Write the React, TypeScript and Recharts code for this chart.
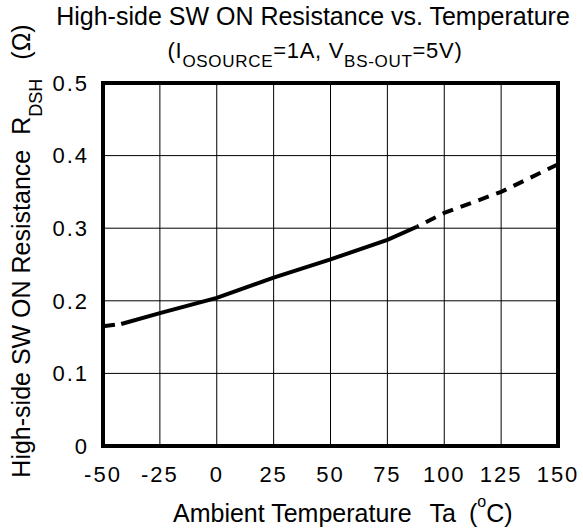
import { LineChart, Line, XAxis, YAxis, CartesianGrid, ReferenceArea } from 'recharts';

const temps = [-50, -42, -25, 0, 25, 50, 75, 88, 100, 125, 150];
const solidR = [null, 0.168, 0.183, 0.204, 0.232, 0.257, 0.284, 0.302, null, null, null];
const dashLowR = [0.165, 0.168, null, null, null, null, null, null, null, null, null];
const dashHighR = [null, null, null, null, null, null, null, 0.302, 0.321, 0.35, 0.388];
const xTicks = [-50, -25, 0, 25, 50, 75, 100, 125, 150];
const yTicks = [0, 0.1, 0.2, 0.3, 0.4, 0.5];

const data = temps.map((t, i) => ({
  t,
  solid: solidR[i],
  low: dashLowR[i],
  high: dashHighR[i],
}));

const font = 'Liberation Sans, Arial, sans-serif';
const tickStyle = { fill: '#000', fontSize: 22, fontFamily: font, letterSpacing: 2 };

export default function App() {
  return (
    <div style={{ position: 'absolute', left: 0, top: 0, width: 583, height: 531, background: '#fff' }}>
      <LineChart width={583} height={531} data={data} margin={{ top: 83, right: 25, left: 0, bottom: 0 }}>
        <CartesianGrid stroke="#000" strokeWidth={1} />
        <XAxis
          dataKey="t"
          type="number"
          domain={[-50, 150]}
          ticks={xTicks}
          height={85}
          axisLine={false}
          tickLine={false}
          tickSize={0}
          tickMargin={20}
          tick={tickStyle}
          interval={0}
        />
        <YAxis
          type="number"
          domain={[0, 0.5]}
          ticks={yTicks}
          width={103}
          axisLine={false}
          tickLine={false}
          tickSize={0}
          tickMargin={14}
          tick={tickStyle}
          interval={0}
          tickFormatter={(v: number) => (v === 0 ? '0' : v.toFixed(1))}
        />
        <Line dataKey="solid" stroke="#000" strokeWidth={4} dot={false} isAnimationActive={false} connectNulls={false} />
        <Line dataKey="low" stroke="#000" strokeWidth={4} strokeDasharray="12 8" dot={false} isAnimationActive={false} />
        <Line dataKey="high" stroke="#000" strokeWidth={4} strokeDasharray="11 8" strokeDashoffset={-10} dot={false} isAnimationActive={false} />
        <ReferenceArea x1={-50} x2={150} y1={0} y2={0.5} fill="none" fillOpacity={0} stroke="#000" strokeWidth={4} strokeOpacity={1} />
      </LineChart>
      <svg width={583} height={531} style={{ position: 'absolute', left: 0, top: 0, pointerEvents: 'none' }} fontFamily={font}>
        <text x={313} y={25} textAnchor="middle" fontSize={25} fill="#000">
          High-side SW ON Resistance vs. Temperature
        </text>
        <text x={315} y={58} textAnchor="middle" fontSize={22} fill="#000" letterSpacing={0.7}>
          (I
          <tspan fontSize={17} dy={9}>OSOURCE</tspan>
          <tspan dy={-9}>=1A, V</tspan>
          <tspan fontSize={17} dy={9}>BS-OUT</tspan>
          <tspan dy={-9}>=5V)</tspan>
        </text>
        <text transform="translate(30,251) rotate(-90)" textAnchor="middle" fontSize={25} fill="#000">
          High-side SW ON Resistance
          <tspan dx={15}>R</tspan>
          <tspan fontSize={18} dy={12}>DSH</tspan>
          <tspan dx={19} dy={-12}>(Ω)</tspan>
        </text>
        <text x={173} y={522} fontSize={25} fill="#000">
          Ambient Temperature
          <tspan dx={18}>Ta</tspan>
          <tspan dx={13}>(</tspan>
          <tspan fontSize={16} dy={-15}>o</tspan>
          <tspan dy={15}>C)</tspan>
        </text>
      </svg>
    </div>
  );
}
